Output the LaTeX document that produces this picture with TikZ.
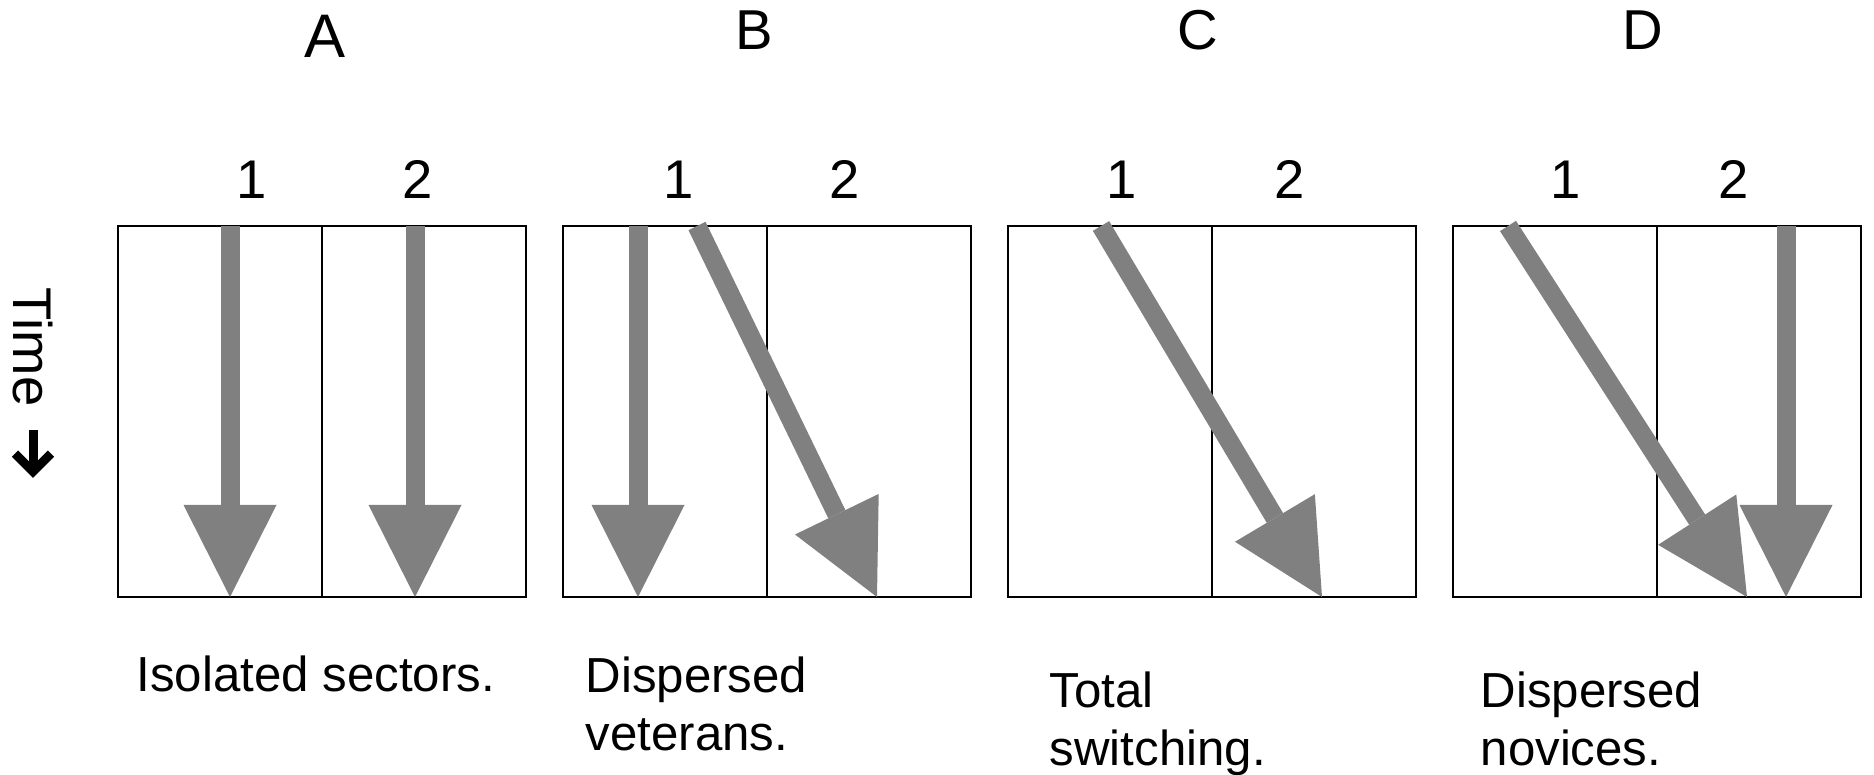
\documentclass[tikz,border=0pt]{standalone}
\usepackage{fontspec}
\setmainfont{Liberation Sans}
\usetikzlibrary{arrows.meta,positioning}
\tikzstyle{cell} = [rectangle, draw, line width=0.45pt, minimum width=2.04cm,
    minimum height=3.71cm, inner sep=0pt, outer sep=0pt]
\tikzstyle{flow} = [draw=gray, line width=0.19cm,
    -{Triangle[length=0.92cm, width=0.93cm, line width=0pt]}]
\tikzstyle{panel} = [font=\fontsize{16}{19}\selectfont, anchor=base]
\tikzstyle{lane} = [font=\fontsize{15.5}{18}\selectfont, anchor=base]
\tikzstyle{caption} = [font=\fontsize{14}{16.5}\selectfont, align=left,
    anchor=north west, inner sep=0pt]

\begin{document}
\begin{tikzpicture}
  \useasboundingbox (0,0) rectangle (18.74,-7.75);

  % sector cells
  \node[cell] (a1) at (2.20,-4.115) {};
  \node[cell] (a2) [right=0pt of a1] {};
  \node[cell] (b1) [right=0.37cm of a2] {};
  \node[cell] (b2) [right=0pt of b1] {};
  \node[cell] (c1) [right=0.37cm of b2] {};
  \node[cell] (c2) [right=0pt of c1] {};
  \node[cell] (d1) [right=0.37cm of c2] {};
  \node[cell] (d2) [right=0pt of d1] {};

  % panel letters and sector numbers
  \node[panel, font=\fontsize{17.5}{21}\selectfont] (pa) at (3.25,-0.58) {A};
  \node[panel] (pb) at (7.54,-0.50) {B};
  \node[panel] (pc) at (11.98,-0.50) {C};
  \node[panel] (pd) at (16.43,-0.50) {D};
  \node[lane] (na1) at (2.52,-1.99) {1};
  \node[lane] (na2) at (4.18,-1.99) {2};
  \node[lane] (nb1) at (6.79,-1.99) {1};
  \node[lane] (nb2) at (8.45,-1.99) {2};
  \node[lane] (nc1) at (11.22,-1.99) {1};
  \node[lane] (nc2) at (12.90,-1.99) {2};
  \node[lane] (nd1) at (15.66,-1.99) {1};
  \node[lane] (nd2) at (17.34,-1.99) {2};

  % careers
  \coordinate (as1) at (2.30,-2.26);  \coordinate (ae1) at (2.30,-5.97);
  \coordinate (as2) at (4.15,-2.26);  \coordinate (ae2) at (4.15,-5.97);
  \coordinate (bs1) at (6.38,-2.26);  \coordinate (be1) at (6.38,-5.97);
  \coordinate (bs2) at (6.97,-2.26);  \coordinate (be2) at (8.77,-5.97);
  \coordinate (cs1) at (11.01,-2.26); \coordinate (ce1) at (13.22,-5.97);
  \coordinate (ds1) at (15.08,-2.26); \coordinate (de1) at (17.47,-5.97);
  \coordinate (ds2) at (17.86,-2.26); \coordinate (de2) at (17.86,-5.97);
  \draw[flow] (as1) -- (ae1);
  \draw[flow] (as2) -- (ae2);
  \draw[flow] (bs1) -- (be1);
  \draw[flow] (bs2) -- (be2);
  \draw[flow] (cs1) -- (ce1);
  \draw[flow] (ds1) -- (de1);
  \draw[flow] (ds2) -- (de2);

  % time axis
  \node[font=\fontsize{15.5}{18}\selectfont, rotate=-90] (time) at (0.325,-3.47) {Time};
  \coordinate (tt) at (0.33,-4.30);
  \coordinate (tb) at (0.33,-4.78);
  \draw[line width=0.09cm, -{Straight Barb[length=0.18cm, width=0.36cm]}] (tt) -- (tb);

  % captions
  \node[caption] (isol) at (1.36,-6.55) {Isolated sectors.};
  \node[caption] (vet) at (5.85,-6.56) {Dispersed\\veterans.};
  \node[caption] (tot) at (10.49,-6.71) {Total\\switching.};
  \node[caption] (nov) at (14.80,-6.71) {Dispersed\\novices.};
\end{tikzpicture}
\end{document}
